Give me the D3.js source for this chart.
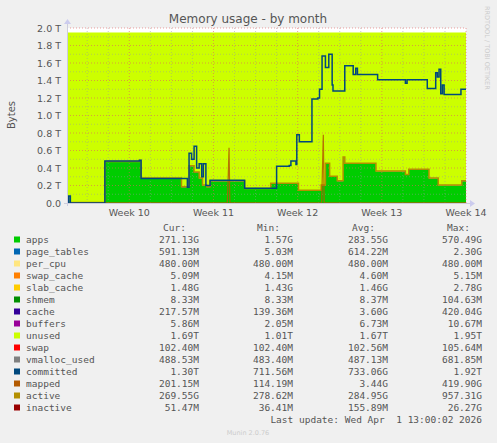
<!DOCTYPE html>
<html><head><meta charset="utf-8">
<script src="https://cdn.jsdelivr.net/npm/d3@7"></script>
<style>body{margin:0;background:#f0f0f0}text{font-family:"DejaVu Sans",sans-serif;white-space:pre}</style>
</head><body>
<svg id="chart" width="497" height="443"></svg>
<script>
// time in weeks (ISO week number), values in T
var appsT = [9.26, 9.7, 9.71, 10.12, 10.14, 10.6, 10.62, 10.69, 10.71, 10.77, 10.83, 10.87, 10.92, 10.96, 11.35, 11.37, 11.66, 11.68, 12.0, 12.01, 12.25, 12.28, 12.33, 12.38, 12.47, 12.5, 12.54, 12.56, 12.9, 12.93, 13.26, 13.28, 13.32, 13.52, 13.56, 13.64, 13.67, 13.92, 13.95, 14.0];
var appsV = [0, 0, 0.47, 0.48, 0.28, 0.28, 0.18, 0.18, 0.42, 0.35, 0.28, 0.2, 0.18, 0.25, 0.25, 0.16, 0.16, 0.22, 0.22, 0.14, 0.14, 0.2, 0.45, 0.3, 0.25, 0.25, 0.52, 0.45, 0.45, 0.36, 0.36, 0.32, 0.38, 0.38, 0.28, 0.28, 0.2, 0.2, 0.25, 0.25];
var totalT = 1.95;
var cacheV = 0.004;

var commT = [9.26, 9.28, 9.3, 9.32, 9.7, 9.71, 10.12, 10.14, 10.69, 10.71, 10.74, 10.77, 10.8, 10.83, 10.86, 10.88, 10.91, 10.96, 11.35, 11.37, 11.72, 11.75, 11.9, 11.92, 11.98, 11.99, 12.02, 12.16, 12.17, 12.24, 12.26, 12.29, 12.33, 12.37, 12.41, 12.42, 12.54, 12.56, 12.63, 12.66, 12.69, 12.71, 12.93, 12.95, 13.26, 13.28, 13.3, 13.52, 13.54, 13.62, 13.64, 13.66, 13.68, 13.7, 13.72, 13.74, 13.92, 13.94, 14.0];
var commV = [0, 0.08, 0, 0, 0, 0.48, 0.49, 0.28, 0.18, 0.57, 0.5, 0.65, 0.4, 0.45, 0.3, 0.45, 0.2, 0.26, 0.26, 0.17, 0.17, 0.42, 0.43, 0.48, 0.44, 0.78, 0.7, 0.7, 1.19, 1.2, 1.3, 1.68, 1.55, 1.7, 1.35, 1.28, 1.28, 1.57, 1.57, 1.47, 1.54, 1.47, 1.47, 1.41, 1.41, 1.37, 1.41, 1.41, 1.31, 1.31, 1.49, 1.44, 1.53, 1.25, 1.35, 1.24, 1.24, 1.3, 1.3];

var mappedT = [9.26, 11.165, 11.175, 11.185, 11.195, 12.285, 12.295, 12.305, 12.315, 14.0];
var mappedV = [0.002, 0.002, 0.3, 0.63, 0.002, 0.002, 0.4, 0.78, 0.002, 0.002];

var yTicks = [0, 0.2, 0.4, 0.6, 0.8, 1.0, 1.2, 1.4, 1.6, 1.8, 2.0];
var xTicks = [10, 11, 12, 13, 14];

var names = ["apps", "page_tables", "per_cpu", "swap_cache", "slab_cache", "shmem", "cache", "buffers", "unused", "swap", "vmalloc_used", "committed", "mapped", "active", "inactive"];
var colors = ["#00cc00", "#0066b3", "#ffe680", "#ff8000", "#ffcc00", "#008f00", "#330099", "#990099", "#ccff00", "#ff0000", "#808080", "#00487d", "#b35a00", "#b38f00", "#990000"];
var curV = ["271.13G", "591.13M", "480.00M", "5.09M", "1.48G", "8.33M", "217.57M", "5.86M", "1.69T", "102.40M", "488.53M", "1.30T", "201.15M", "269.55G", "51.47M"];
var minV = ["1.57G", "5.03M", "480.00M", "4.15M", "1.43G", "8.33M", "139.36M", "2.05M", "1.01T", "102.40M", "483.40M", "711.56M", "114.19M", "278.62M", "36.41M"];
var avgV = ["283.55G", "614.22M", "480.00M", "4.60M", "1.46G", "8.37M", "3.60G", "6.73M", "1.67T", "102.56M", "487.13M", "733.06G", "3.44G", "284.95G", "155.89M"];
var maxV = ["570.49G", "2.30G", "480.00M", "5.15M", "2.78G", "104.63M", "420.04G", "10.67M", "1.95T", "105.64M", "681.85M", "1.92T", "419.90G", "957.31G", "26.27G"];

var svg = d3.select('#chart');
var x = d3.scaleLinear().domain([9.26, 14.0]).range([67, 466]);
var y = d3.scaleLinear().domain([0, 2.0]).range([203, 28]);

var stackData = appsT.map(function(t, i) {
  return { t: t, apps: appsV[i], cache: cacheV, unused: totalT - appsV[i] - cacheV };
});
var series = d3.stack().keys(["apps", "cache", "unused"])(stackData);
var stackColors = { apps: "#00cc00", cache: "#330099", unused: "#ccff00" };

var area = d3.area().curve(d3.curveStepAfter)
  .x(function(d) { return x(d.data.t); })
  .y0(function(d) { return y(d[0]); })
  .y1(function(d) { return y(d[1]); });

svg.append("rect").attr("x", 67).attr("y", 28).attr("width", 399).attr("height", 175).attr("fill", "#fff");
svg.selectAll(".layer").data(series).enter().append("path")
  .attr("d", area).attr("fill", function(d) { return stackColors[d.key]; });

// grid
var g = svg.append("g");
for (var v = 0.1; v < 2.05; v += 0.2) {
  g.append("line").attr("x1", 67).attr("x2", 466).attr("y1", y(v)).attr("y2", y(v))
    .attr("stroke", "#999").attr("stroke-width", 0.5).attr("stroke-dasharray", "1,2");
}
yTicks.slice(1).forEach(function(v) {
  g.append("line").attr("x1", 67).attr("x2", 466).attr("y1", y(v)).attr("y2", y(v))
    .attr("stroke", "#e06060").attr("stroke-width", 0.6).attr("stroke-dasharray", "1,2");
});
for (var d = 9.5; d <= 14.0; d += 0.25) {
  var isMajor = Math.abs(d - Math.round(d)) < 0.01;
  g.append("line").attr("x1", x(d)).attr("x2", x(d)).attr("y1", 28).attr("y2", 203)
    .attr("stroke", isMajor ? "#e06060" : "#999").attr("stroke-width", isMajor ? 0.6 : 0.5)
    .attr("stroke-dasharray", "1,2");
}

// lines
var line = d3.line().curve(d3.curveStepAfter).x(function(d) { return x(d[0]); }).y(function(d) { return y(d[1]); });
var lineLin = d3.line().x(function(d) { return x(d[0]); }).y(function(d) { return y(d[1]); });
svg.append("path").attr("d", line(appsT.map(function(t, i) { return [t, appsV[i] + 0.005]; })))
  .attr("fill", "none").attr("stroke", "#b38f00").attr("stroke-width", 1.5);
svg.append("path").attr("d", lineLin(mappedT.map(function(t, i) { return [t, mappedV[i]]; })))
  .attr("fill", "none").attr("stroke", "#b35a00").attr("stroke-width", 1.2).attr("opacity", 0.85);
svg.append("path").attr("d", line(commT.map(function(t, i) { return [t, commV[i]]; })))
  .attr("fill", "none").attr("stroke", "#00487d").attr("stroke-width", 1.5);

// axes
svg.append("line").attr("x1", 64).attr("x2", 470).attr("y1", 203.5).attr("y2", 203.5).attr("stroke", "#ccd");
svg.append("path").attr("d", "M470,200L475,203.5L470,207Z").attr("fill", "#cce");
svg.append("line").attr("x1", 67.5).attr("x2", 67.5).attr("y1", 206).attr("y2", 24).attr("stroke", "#ccd");
svg.append("path").attr("d", "M64,24L67.5,19L71,24Z").attr("fill", "#cce");

svg.selectAll(".yt").data(yTicks).enter().append("text")
  .attr("x", 61).attr("y", function(d) { return y(d) + 3.5; }).attr("text-anchor", "end")
  .attr("font-size", 9.5).attr("fill", "#555")
  .text(function(d) { return d === 0 ? "0.0" : d.toFixed(1) + " T"; });
svg.selectAll(".xt").data(xTicks).enter().append("text")
  .attr("x", function(d) { return x(d); }).attr("y", 216).attr("text-anchor", "middle")
  .attr("font-size", 9.5).attr("fill", "#555").text(function(d) { return "Week " + d; });

svg.append("text").attr("x", 248).attr("y", 23).attr("text-anchor", "middle")
  .attr("font-size", 12).attr("fill", "#555").text("Memory usage - by month");
svg.append("text").attr("transform", "translate(15,115) rotate(-90)").attr("text-anchor", "middle")
  .attr("font-size", 10).attr("fill", "#555").text("Bytes");
svg.append("text").attr("transform", "translate(485,6) rotate(90)")
  .attr("font-size", 6.5).attr("fill", "#ccc").text("RRDTOOL / TOBI OETIKER");

// legend
var mono = "'DejaVu Sans Mono', monospace";
var heads = [["Cur:", 186], ["Min:", 280], ["Avg:", 375], ["Max:", 470]];
heads.forEach(function(h) {
  svg.append("text").attr("x", h[1]).attr("y", 231).attr("text-anchor", "end")
    .style("font-family", mono).attr("font-size", 9.5).attr("fill", "#555").text(h[0]);
});
var cols = [[curV, 199], [minV, 293], [avgV, 388], [maxV, 482]];
names.forEach(function(n, i) {
  var yy = 243 + i * 12;
  svg.append("rect").attr("x", 14).attr("y", yy - 6.5).attr("width", 6).attr("height", 6).attr("fill", colors[i]);
  svg.append("text").attr("x", 26).attr("y", yy).style("font-family", mono).attr("font-size", 9.5)
    .attr("fill", "#555").text(n);
  cols.forEach(function(c) {
    svg.append("text").attr("x", c[1]).attr("y", yy).attr("text-anchor", "end").style("font-family", mono)
      .attr("font-size", 9.5).attr("fill", "#555").text(c[0][i]);
  });
});
svg.append("text").attr("x", 482).attr("y", 423).attr("text-anchor", "end").style("font-family", mono)
  .attr("font-size", 9.5).attr("fill", "#555").text("Last update: Wed Apr  1 13:00:02 2026");
svg.append("text").attr("x", 248).attr("y", 435).attr("text-anchor", "middle")
  .attr("font-size", 6.5).attr("fill", "#ccc").text("Munin 2.0.76");
</script>
</body></html>
